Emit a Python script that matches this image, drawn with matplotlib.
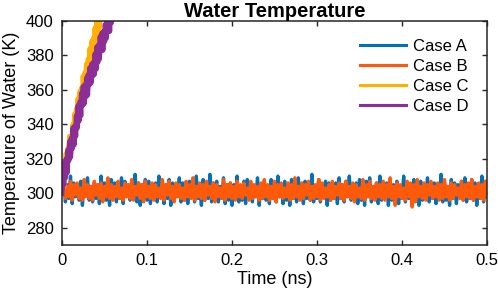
import matplotlib
matplotlib.use('Agg')
import matplotlib.pyplot as plt
import numpy as np

plt.rcParams['font.family'] = ['Liberation Sans', 'DejaVu Sans']

# 数据：时间 (ns) 与水温 (K)
case_a = [300,
    308,295,305,297,310,294,306,298,304,296,
    307,293,305,299,309,296,304,295,306,297,
    305,294,310,297,306,296,303,293,308,298,
    306,295,304,297,309,294,307,298,305,296,
    304,297,311,295,306,293,305,298,308,296,
    307,294,304,297,306,295,310,298,303,294,
    305,297,308,293,306,296,304,298,309,295,
    306,296,305,294,307,298,304,295,310,297,
    304,293,308,296,305,297,311,295,306,298,
    307,295,304,297,309,294,305,296,306,293,
    305,298,310,295,304,296,307,294,308,297,
    306,295,304,298,309,293,305,297,307,296,
    304,294,308,297,306,295,310,298,305,294,
    307,296,305,293,308,297,304,295,309,298,
    305,294,307,297,306,296,311,295,304,297,
    308,295,305,298,307,293,306,296,304,297,
    306,294,309,297,305,295,307,298,310,296,
    304,297,306,294,308,296,305,293,307,298,
    309,295,304,297,306,294,310,296,305,297,
    306,293,308,296,305,298,307,294,304,297,
    310,295,306,297,304,294,308,296,305,293,
    307,296,305,298,309,295,304,297,306,294,
    305,297,311,295,306,296,304,293,308,297,
    306,294,305,298,307,296,309,295,304,297,
    308,296,306,293,305,297,310,295,307,298]

case_b = [300,
    306,297,304,298,307,296,305,299,306,297,
    303,296,308,298,305,297,304,296,307,299,
    305,297,306,295,304,298,309,297,305,296,
    304,298,307,297,303,296,306,298,305,297,
    308,296,304,299,306,297,305,295,307,298,
    304,297,306,296,305,298,303,297,308,296,
    305,299,307,297,304,295,306,298,305,297,
    303,296,307,298,305,297,309,296,304,298,
    306,297,305,296,307,299,304,297,306,295,
    305,298,303,297,308,296,305,298,306,297,
    304,296,307,298,305,297,306,299,303,296,
    307,297,305,298,304,296,306,297,308,298,
    305,296,304,297,307,295,305,298,306,297,
    303,298,306,296,305,297,309,298,304,296,
    306,297,305,299,307,296,304,297,305,298,
    308,296,306,297,303,298,305,296,307,297,
    304,299,306,297,305,296,307,298,304,297,
    306,295,305,298,303,297,308,296,305,298,
    307,297,304,296,306,298,305,297,307,296,
    305,298,309,297,304,293,306,298,305,297,
    303,296,307,298,306,292,305,295,308,298,
    304,297,306,296,305,299,307,297,304,298,
    306,296,305,297,308,298,304,296,306,297,
    305,299,303,297,307,296,305,298,306,297,
    308,296,304,298,306,297,305,296,307,299]

case_c = [300,309,304,318,312,323,314,326,320,333,
          323,333,327,340,334,346,337,349,344,355,
          346,359,352,361,354,368,359,370,364,375,
          366,378,373,384,375,388,381,390,383,396,
          388,401,393,403,396,409,402,412,403,415,
          409]

case_d = [300,308,305,318,309,320,312,325,319,330,
          321,332,326,338,328,339,333,345,338,351,
          342,353,345,358,351,362,352,363,356,367,
          357,369,363,373,364,375,368,376,369,381,
          372,385,376,386,378,391,383,393,383,394,
          388,398,390,402,394,402,394,407,399,411,
          401,412,406,416,406,418,410,423,414,425,
          418]

t_ab = np.linspace(0, 0.5, len(case_a))
t_c = np.linspace(0, 0.05, len(case_c))
t_d = np.linspace(0, 0.07, len(case_d))

fig = plt.figure(figsize=(4.98, 2.97), dpi=100)
ax = fig.add_axes([0.1245, 0.1751, 0.8534, 0.7542])

ax.plot(t_ab, case_a, color='#0072BD', lw=2.4, label='Case A')
ax.plot(t_ab, case_b, color='#FF5A0A', lw=2.4, label='Case B')
ax.plot(t_c, case_c, color='#FFB000', lw=3.8, label='Case C')
ax.plot(t_d, case_d, color='#8B2E95', lw=3.8, label='Case D')

ax.set_xlim(0, 0.5)
ax.set_ylim(270, 400)
ax.set_xticks([0, 0.1, 0.2, 0.3, 0.4, 0.5])
ax.set_xticklabels(['0', '0.1', '0.2', '0.3', '0.4', '0.5'])
ax.set_yticks([280, 300, 320, 340, 360, 380, 400])

ax.tick_params(direction='in', top=True, right=True, length=3.5, width=1.0,
               labelsize=12, pad=6, colors='#262626', labelcolor='black')
for s in ax.spines.values():
    s.set_linewidth(1.1)
    s.set_color('#262626')

ax.set_title('Water Temperature', fontsize=14.5, fontweight='bold', pad=3)
ax.set_xlabel('Time (ns)', fontsize=13, labelpad=2)
ax.set_ylabel('Temperature of Water (K)', fontsize=13, labelpad=4)

leg = ax.legend(loc='upper right', bbox_to_anchor=(0.972, 0.95), frameon=False,
                fontsize=12, handlelength=2.8, handletextpad=0.4,
                labelspacing=0.3, borderaxespad=0)
for h in leg.get_lines():
    h.set_linewidth(2.2)

fig.savefig('out.png', dpi=100)
